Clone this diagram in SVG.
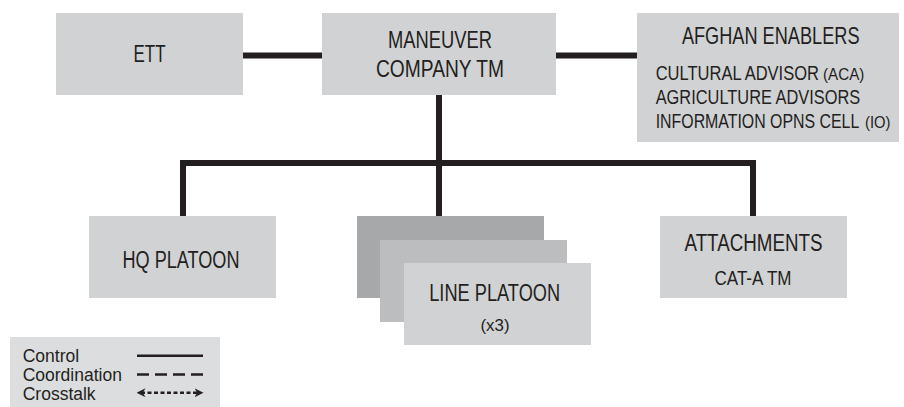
<svg xmlns="http://www.w3.org/2000/svg" width="904" height="407" viewBox="0 0 904 407">
<style>
.box{fill:#d1d2d4}
.t{font-family:"Liberation Sans",Arial,sans-serif;fill:#231f20}
.big{font-size:23px}
.mid{font-size:20px}
.sm{font-size:16px}
.c{text-anchor:middle}
.ctl{stroke:#231f20;stroke-width:6;fill:none;stroke-linecap:butt}
.lg{font-family:"Liberation Sans",Arial,sans-serif;font-size:17.5px;fill:#231f20}
.lgl{stroke:#231f20;stroke-width:2.5;fill:none}
</style>
<defs>
<marker id="ah" viewBox="0 0 10 10" refX="5" refY="5" markerWidth="3.6" markerHeight="3.6" orient="auto-start-reverse" markerUnits="strokeWidth">
<path d="M0,0 L10,5 L0,10 L3,5 Z" fill="#231f20"/>
</marker>
</defs>
<g id="connectors">
<line class="ctl" x1="243" y1="55.5" x2="322" y2="55.5"/>
<line class="ctl" x1="556" y1="55.5" x2="637" y2="55.5"/>
<line class="ctl" x1="439" y1="95" x2="439" y2="216"/>
<polyline class="ctl" points="183,216 183,163 753,163 753,216"/>
</g>
<g id="ett">
<rect class="box" x="56" y="13" width="187" height="82"/>
<text class="t big c" x="149.5" y="61.7" textLength="32" lengthAdjust="spacingAndGlyphs">ETT</text>
</g>
<g id="maneuver">
<rect class="box" x="322" y="13" width="234" height="82"/>
<text class="t big c" x="440" y="48.3" textLength="104" lengthAdjust="spacingAndGlyphs">MANEUVER</text>
<text class="t big c" x="440" y="77.3" textLength="128" lengthAdjust="spacingAndGlyphs">COMPANY TM</text>
</g>
<g id="afghan">
<rect class="box" x="637" y="13" width="262" height="129"/>
<text class="t big c" transform="matrix(0.79 0 0 1 770.7 0)" x="0" y="44.3">AFGHAN ENABLERS</text>
<text class="t mid" transform="matrix(0.826 0 0 1 655.7 0)" x="0" y="80">CULTURAL ADVISOR</text>
<text class="t sm" transform="matrix(0.95 0 0 1 823 0)" x="0" y="80">(ACA)</text>
<text class="t mid" transform="matrix(0.82 0 0 1 655.7 0)" x="0" y="104.3">AGRICULTURE ADVISORS</text>
<text class="t mid" transform="matrix(0.795 0 0 1 655.7 0)" x="0" y="128.3">INFORMATION OPNS CELL</text>
<text class="t sm" transform="matrix(0.925 0 0 1 865 0)" x="0" y="128.3">(IO)</text>
</g>
<g id="hq">
<rect class="box" x="89" y="216" width="187" height="82"/>
<text class="t big c" x="181" y="267.7" textLength="117" lengthAdjust="spacingAndGlyphs">HQ PLATOON</text>
</g>
<g id="line">
<rect x="357" y="216" width="187" height="82" fill="#a7a8aa"/>
<rect x="380" y="240" width="187" height="82" fill="#bcbdbf"/>
<rect class="box" x="404" y="263" width="187" height="82"/>
<text class="t big c" x="494.7" y="300.7" textLength="131" lengthAdjust="spacingAndGlyphs">LINE PLATOON</text>
<text class="t sm c" x="495" y="331" font-size="17" textLength="29" lengthAdjust="spacingAndGlyphs">(x3)</text>
</g>
<g id="attachments">
<rect class="box" x="660" y="216" width="187" height="82"/>
<text class="t big c" x="753.5" y="251" textLength="138" lengthAdjust="spacingAndGlyphs">ATTACHMENTS</text>
<text class="t mid c" x="753" y="285.3" textLength="77" lengthAdjust="spacingAndGlyphs">CAT-A TM</text>
</g>
<g id="legend">
<rect x="10" y="337" width="210" height="70" fill="#dcdddf"/>
<text class="lg" x="22.7" y="362">Control</text>
<text class="lg" x="22.7" y="381">Coordination</text>
<text class="lg" x="22.7" y="400">Crosstalk</text>
<line class="lgl" x1="137" y1="355.8" x2="203" y2="355.8"/>
<line class="lgl" x1="137" y1="374.5" x2="203" y2="374.5" stroke-dasharray="12 6"/>
<line class="lgl" x1="141" y1="392.7" x2="199" y2="392.7" stroke-width="2" stroke-dasharray="4 2.5" marker-start="url(#ah)" marker-end="url(#ah)"/>
</g>
</svg>
